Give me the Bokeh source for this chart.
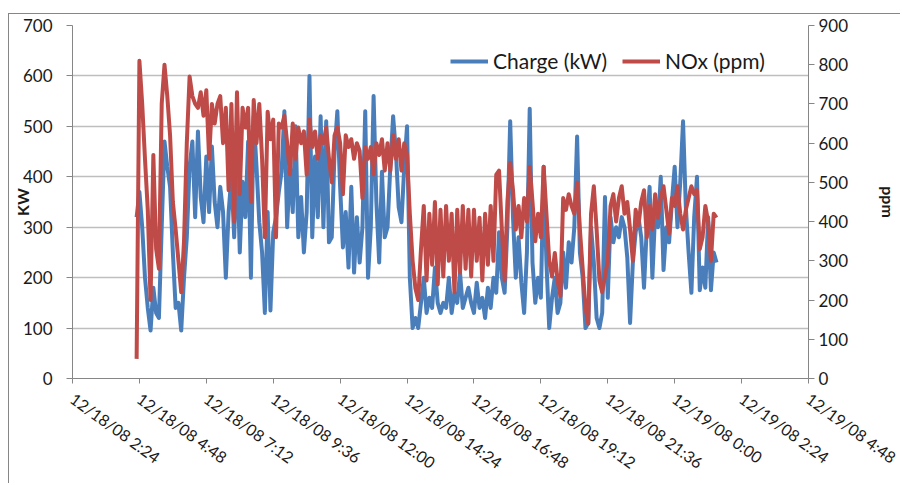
import pandas as pd
from math import pi
from bokeh.plotting import figure
from bokeh.models import Range1d, LinearAxis, FixedTicker
from bokeh.embed import file_html
from bokeh.resources import INLINE

# ---------------- data ----------------
start_time = "2008-12-18 04:42"
sample_minutes = 6

charge_kw = [
    320, 370, 300, 200, 140, 95, 180, 130, 120, 300,
    470, 420, 380, 250, 140, 150, 95, 200, 280, 420,
    470, 320, 490, 360, 310, 440, 330, 460, 350, 300,
    380, 330, 200, 330, 400, 280, 450, 250, 390, 320,
    470, 200, 520, 420, 310, 250, 130, 330, 135, 290,
    320, 370, 410, 530, 300, 420, 330, 500, 280, 360,
    250, 330, 600, 280, 440, 320, 520, 300, 510, 270,
    280, 450, 530, 380, 260, 330, 220, 380, 210, 320,
    230, 300, 530, 200, 300, 560, 350, 230, 410, 280,
    300, 420, 520, 450, 340, 310, 420, 500, 200, 100,
    120, 100, 150, 200, 130, 160, 140, 220, 150, 130,
    150, 140, 200, 130, 170, 150, 210, 140, 160, 180,
    150, 130, 190, 140, 160, 120, 180, 140, 200, 170,
    290, 200, 170, 300, 510, 320, 200, 280, 190, 130,
    250, 535, 230, 150, 200, 160, 420, 230, 100, 160,
    200, 130, 150, 250, 180, 270, 230, 300, 480, 250,
    200, 100, 110, 300, 230, 120, 100, 130, 360, 160,
    320, 270, 300, 280, 320, 300, 240, 110, 230, 290,
    320, 280, 180, 300, 380, 200, 330, 300, 400, 215,
    300, 270, 350, 420, 300, 390, 510, 340, 250, 170,
    320, 400, 175, 220, 180, 320, 175, 250, 230,
]

nox_ppm = [
    50, 810, 700, 560, 430, 200, 570, 330, 280, 700,
    800, 720, 620, 450, 380, 300, 220, 350, 600, 770,
    720, 700, 690, 730, 670, 735, 560, 700, 650, 700,
    720, 600, 690, 480, 700, 400, 730, 470, 690, 640,
    690, 450, 710, 600, 700, 560, 360, 680, 610, 660,
    360, 650, 640, 670, 600, 520, 650, 560, 640, 600,
    630, 520, 660, 590, 630, 560, 620, 600, 640, 560,
    500, 620, 640, 600, 470, 620, 590, 610, 560, 600,
    580, 460, 590, 560, 590, 520, 600, 570, 610, 530,
    600, 530, 620, 560, 610, 530, 600, 570, 420, 300,
    230, 200, 330, 440, 250, 420, 290, 450, 240, 430,
    260, 440, 300, 420, 220, 430, 270, 440, 280, 430,
    260, 430, 300, 410, 250, 420, 290, 440, 300, 520,
    530, 380, 250, 450, 550, 480, 380, 440, 360, 460,
    400, 540, 450, 350, 420, 360, 540, 420, 300, 260,
    320, 250, 210, 460, 430, 470, 440, 420, 500, 380,
    280, 180, 140, 420, 490, 380, 250, 220, 260, 300,
    440, 470, 400, 460, 490, 420, 450, 380, 300, 430,
    390, 450, 480, 360, 440, 380, 470, 410, 460, 490,
    430, 370, 460, 440, 490, 420, 380, 430, 460, 490,
    470, 480, 330, 360, 440, 400, 300, 420, 410,
]

tick_times = [
    "2008-12-18 02:24", "2008-12-18 04:48", "2008-12-18 07:12",
    "2008-12-18 09:36", "2008-12-18 12:00", "2008-12-18 14:24",
    "2008-12-18 16:48", "2008-12-18 19:12", "2008-12-18 21:36",
    "2008-12-19 00:00", "2008-12-19 02:24", "2008-12-19 04:48",
]
tick_labels = [
    "12/18/08 2:24", "12/18/08 4:48", "12/18/08 7:12", "12/18/08 9:36",
    "12/18/08 12:00", "12/18/08 14:24", "12/18/08 16:48", "12/18/08 19:12",
    "12/18/08 21:36", "12/19/08 0:00", "12/19/08 2:24", "12/19/08 4:48",
]
kw_ticks = [0, 100, 200, 300, 400, 500, 600, 700]
ppm_ticks = [0, 100, 200, 300, 400, 500, 600, 700, 800, 900]

series_names = ["Charge (kW)", "NOx (ppm)"]
left_title = "KW"
right_title = "ppm"

# ---------------- figure ----------------
times = pd.date_range(start_time, periods=len(charge_kw), freq=f"{sample_minutes}min")
tick_ts = [pd.Timestamp(t) for t in tick_times]
tick_ms = [float(t.value // 10**6) for t in tick_ts]

FONT = "Lato"
TXT = "#1a1a1a"
AXC = "#868686"

p = figure(
    width=892, height=470,
    x_axis_type="datetime",
    x_range=Range1d(tick_ts[0], tick_ts[-1]),
    y_range=Range1d(kw_ticks[0], kw_ticks[-1]),
    output_backend="svg", toolbar_location=None,
    min_border_left=59, min_border_right=88,
    min_border_top=11, min_border_bottom=106,
)
# chart-area border: left and top edges
p.styles = {"margin-left": "8px", "margin-top": "13px",
            "border-left": "1px solid #868686",
            "border-top": "1px solid #868686"}
p.outline_line_color = None
p.background_fill_color = "white"
p.border_fill_color = "white"

p.xgrid.grid_line_color = None
p.ygrid.grid_line_color = "#BEBEBE"
p.ygrid.grid_line_width = 1.3

p.extra_y_ranges = {"ppm": Range1d(ppm_ticks[0], ppm_ticks[-1])}

# lines
p.line(times, charge_kw, line_color="#4A7EBB", line_width=4,
       line_join="round", legend_label=series_names[0])
p.line(times, nox_ppm, line_color="#BE4B48", line_width=4,
       line_join="round", y_range_name="ppm", legend_label=series_names[1])

# x axis
xa = p.xaxis[0]
xa.ticker = FixedTicker(ticks=tick_ms)
xa.major_label_overrides = {ms: lab for ms, lab in zip(tick_ms, tick_labels)}
xa.major_label_orientation = -36 * pi / 180
xa.major_label_standoff = 13
xa.major_label_text_font = FONT
xa.major_label_text_font_size = "16px"
xa.major_label_text_color = TXT
xa.axis_line_color = AXC
xa.major_tick_line_color = AXC
xa.major_tick_out = 5
xa.major_tick_in = 0
xa.minor_tick_line_color = None

# left axis
ya = p.yaxis[0]
ya.ticker = FixedTicker(ticks=kw_ticks)
ya.major_label_standoff = 14
ya.major_label_text_font = FONT
ya.major_label_text_font_size = "17px"
ya.major_label_text_color = TXT
ya.axis_line_color = AXC
ya.major_tick_line_color = AXC
ya.major_tick_out = 6
ya.major_tick_in = 0
ya.minor_tick_line_color = None
ya.axis_label = left_title
ya.axis_label_standoff = -12
ya.axis_label_text_font = FONT
ya.axis_label_text_font_size = "16px"
ya.axis_label_text_font_style = "bold"
ya.axis_label_text_color = TXT

# right axis
ra = LinearAxis(y_range_name="ppm", ticker=FixedTicker(ticks=ppm_ticks))
ra.major_label_standoff = 4
ra.major_label_text_font = FONT
ra.major_label_text_font_size = "17px"
ra.major_label_text_color = TXT
ra.axis_line_color = AXC
ra.major_tick_line_color = AXC
ra.major_tick_out = 6
ra.major_tick_in = 0
ra.minor_tick_line_color = None
ra.axis_label = right_title
ra.axis_label_standoff = 28
ra.axis_label_text_font = FONT
ra.axis_label_text_font_size = "16px"
ra.axis_label_text_font_style = "bold"
ra.axis_label_text_color = TXT
p.add_layout(ra, "right")

# legend
lg = p.legend[0]
lg.location = (378, 305)
lg.orientation = "horizontal"
lg.border_line_color = None
lg.background_fill_alpha = 0
lg.label_text_font = FONT
lg.label_text_font_size = "21px"
lg.label_text_color = TXT
lg.glyph_width = 38
lg.glyph_height = 20
lg.label_height = 20
lg.label_standoff = 5
lg.spacing = 15
lg.padding = 0
lg.margin = 0

open("out.html", "w").write(file_html(p, INLINE))
